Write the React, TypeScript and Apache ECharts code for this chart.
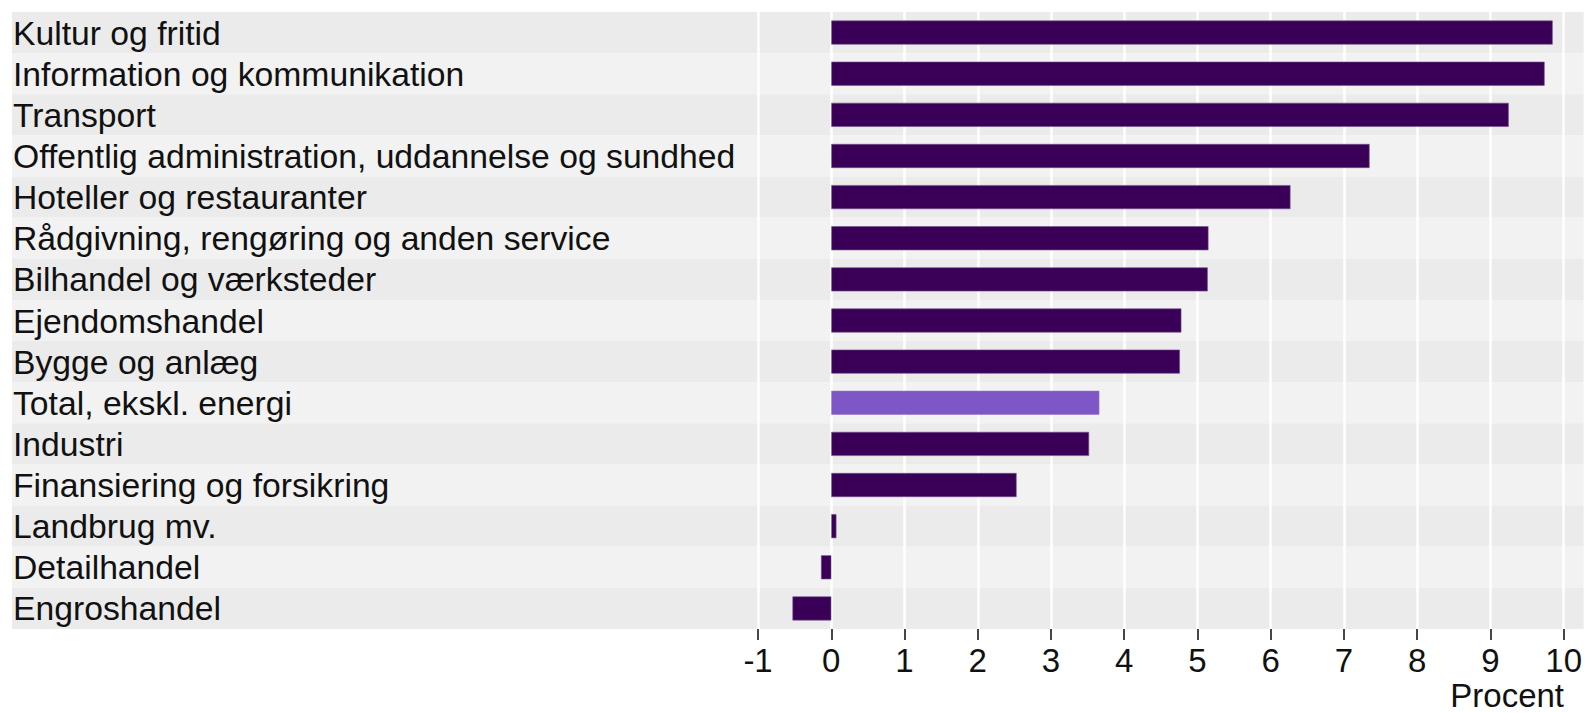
import React, { useEffect, useRef } from "react";
import * as echarts from "echarts";

const categories = [
  "Kultur og fritid",
  "Information og kommunikation",
  "Transport",
  "Offentlig administration, uddannelse og sundhed",
  "Hoteller og restauranter",
  "Rådgivning, rengøring og anden service",
  "Bilhandel og værksteder",
  "Ejendomshandel",
  "Bygge og anlæg",
  "Total, ekskl. energi",
  "Industri",
  "Finansiering og forsikring",
  "Landbrug mv.",
  "Detailhandel",
  "Engroshandel",
];

const values = [9.85, 9.74, 9.25, 7.35, 6.27, 5.15, 5.14, 4.78, 4.76, 3.66, 3.52, 2.53, 0.07, -0.14, -0.53];

const highlighted = ["Total, ekskl. energi"];

const xTicks = [-1, 0, 1, 2, 3, 4, 5, 6, 7, 8, 9, 10];

const FONT = '"Liberation Sans", Arial, Helvetica, sans-serif';

export default function App() {
  const ref = useRef<HTMLDivElement>(null);

  useEffect(() => {
    document.body.style.margin = "0";
    if (!ref.current) return;
    const chart = echarts.init(ref.current, undefined, { renderer: "svg" });
    chart.setOption({
      animation: false,
      backgroundColor: "#ffffff",
      textStyle: { fontFamily: FONT },
      title: {
        text: "Procent",
        right: 21,
        top: 679,
        padding: 0,
        textStyle: { fontFamily: FONT, fontSize: 33, fontWeight: "normal", color: "#111111" },
      },
      grid: { left: 12, right: 0, top: 12, bottom: 84 },
      xAxis: {
        type: "value",
        min: -11.187,
        max: 10.273,
        z: 1,
        axisLine: { show: false },
        axisTick: {
          show: true,
          length: 11,
          customValues: xTicks,
          lineStyle: { color: "#333333", width: 1.8 },
        },
        axisLabel: {
          customValues: xTicks,
          fontSize: 33,
          color: "#111111",
          margin: 15,
          fontFamily: FONT,
        },
        splitLine: { show: true, lineStyle: { color: "#ffffff", width: 2.5 } },
      },
      yAxis: {
        type: "category",
        data: categories,
        inverse: true,
        z: 0,
        axisLine: { show: false },
        axisTick: { show: false, interval: 0 },
        axisLabel: {
          inside: true,
          interval: 0,
          margin: 1,
          fontSize: 33.7,
          color: "#111111",
          fontFamily: FONT,
        },
        splitLine: { show: false },
        splitArea: { show: true, interval: 0, areaStyle: { color: ["#ebebeb", "#f2f2f2"] } },
      },
      series: [
        {
          type: "bar",
          barWidth: 24,
          data: values.map((v, i) => ({
            value: v,
            itemStyle: {
              color: highlighted.includes(categories[i]) ? "#7e56c6" : "#3a0058",
              borderColor: highlighted.includes(categories[i]) ? "#9475cf" : "#6e5288",
              borderWidth: 0.6,
            },
          })),
        },
      ],
    });
    return () => chart.dispose();
  }, []);

  return <div ref={ref} style={{ width: 1585, height: 713 }} />;
}
